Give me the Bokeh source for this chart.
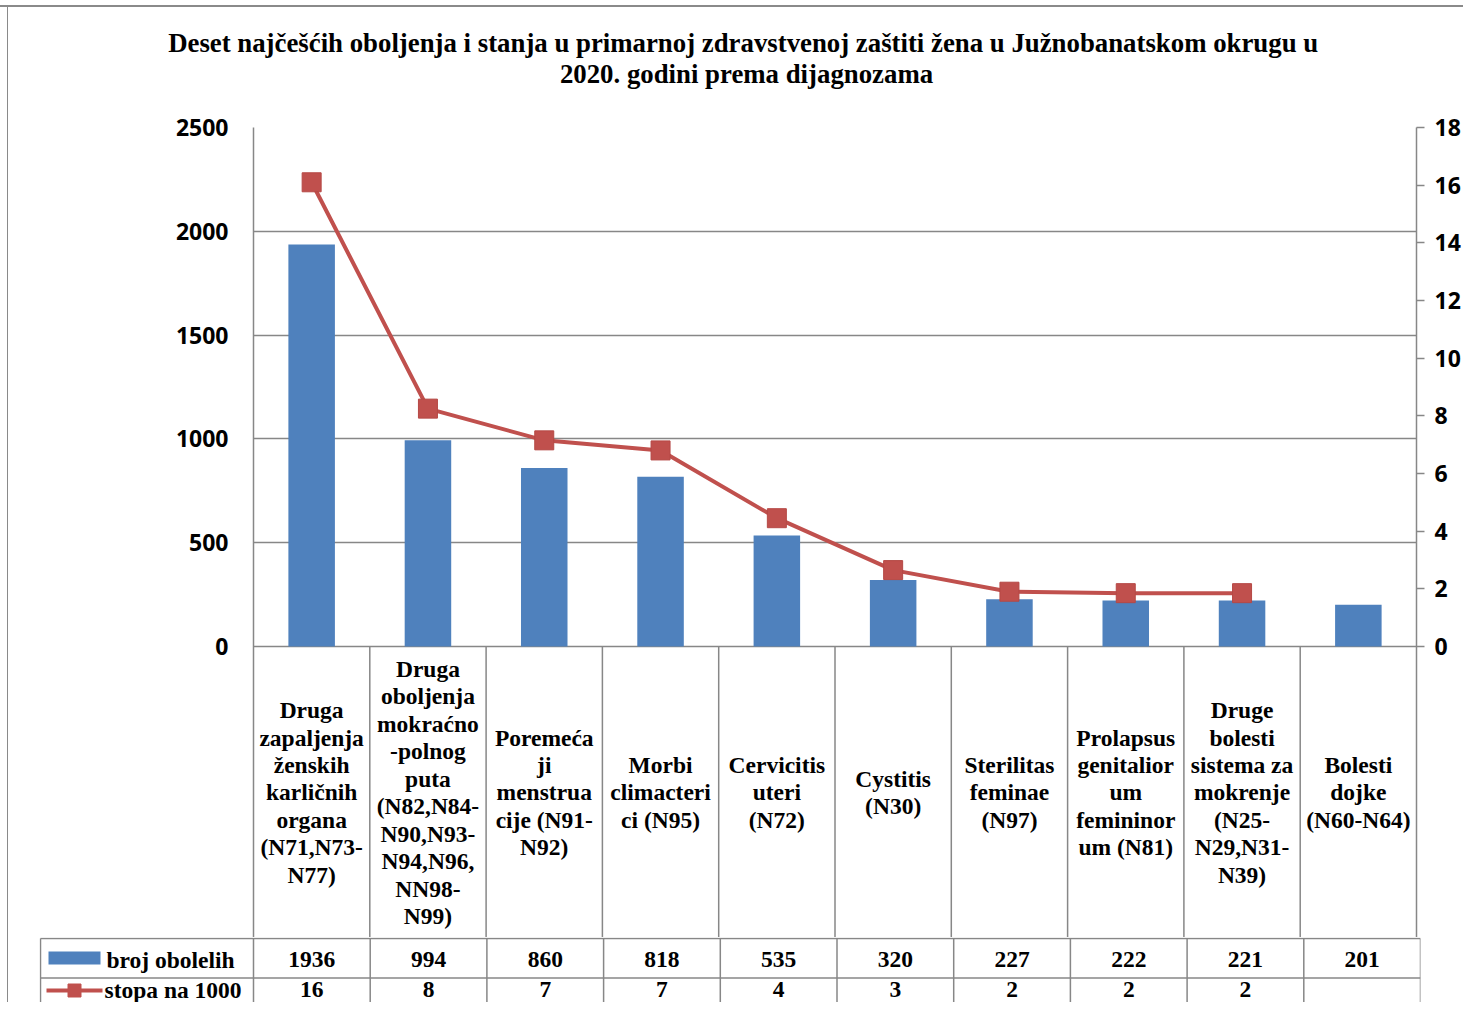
from bokeh.plotting import figure
from bokeh.models import Range1d, LinearAxis, FixedTicker
from bokeh.layouts import column
from bokeh.embed import file_html
from bokeh.resources import INLINE
from bokeh.core.properties import value

# ---------------- data ----------------
categories = [
    "Druga\nzapaljenja\nženskih\nkarličnih\norgana\n(N71,N73-\nN77)",
    "Druga\noboljenja\nmokraćno\n-polnog\nputa\n(N82,N84-\nN90,N93-\nN94,N96,\nNN98-\nN99)",
    "Poremeća\nji\nmenstrua\ncije (N91-\nN92)",
    "Morbi\nclimacteri\nci (N95)",
    "Cervicitis\nuteri\n(N72)",
    "Cystitis\n(N30)",
    "Sterilitas\nfeminae\n(N97)",
    "Prolapsus\ngenitalior\num\nfemininor\num (N81)",
    "Druge\nbolesti\nsistema za\nmokrenje\n(N25-\nN29,N31-\nN39)",
    "Bolesti\ndojke\n(N60-N64)",
]
broj_obolelih = [1936, 994, 860, 818, 535, 320, 227, 222, 221, 201]
stopa_na_1000 = [16.1, 8.25, 7.15, 6.8, 4.45, 2.65, 1.9, 1.85, 1.85, None]
series_names = ["broj obolelih", "stopa na 1000"]
left_ticks = [0, 500, 1000, 1500, 2000, 2500]
right_ticks = [0, 2, 4, 6, 8, 10, 12, 14, 16, 18]
title_lines = [
    "Deset najčešćih oboljenja i stanja u primarnoj zdravstvenoj zaštiti  žena u Južnobanatskom okrugu u",
    "2020. godini prema dijagnozama",
]

# ---------------- style / layout ----------------
BLUE = "#4F81BD"
RED = "#C0504D"
GRAY = "#878787"
SERIF = value("Liberation Serif")
SANS = "Open Sans"
FS = "23.5px"
LH = 1.057
W = 1463
L, R, T, B0 = 253, 1420, 127, 646        # plot area (canvas px)
TABLE_TOP = 938
TITLE_H = 100
CHART_H = 837
BOT_H = 65
N = len(categories)
pxx = (R - L) / N
pyl = (B0 - T) / left_ticks[-1]
pyr = (B0 - T) / right_ticks[-1]
frame_bottom = TITLE_H + CHART_H
yl0 = -(frame_bottom - B0) / pyl
yr0 = -(frame_bottom - B0) / pyr


def dx(px):
    return (px - L) / pxx


def dyl(py):
    return (B0 - py) / pyl


def common(**kw):
    return dict(output_backend="svg", toolbar_location=None, title=None, tools="",
                frame_align=False, **kw)


xs = [i + 0.5 for i in range(N)]

# ---------------- title ----------------
tf = figure(width=W, height=TITLE_H, x_range=Range1d(0, W), y_range=Range1d(TITLE_H, 0),
            x_axis_location=None, y_axis_location=None,
            min_border_left=0, min_border_right=0, min_border_top=0, min_border_bottom=0,
            **common())
tf.outline_line_color = None
tf.background_fill_color = None
tf.border_fill_color = None
tf.grid.visible = False
tf.text(x=[746, 746], y=[42, 73], text=title_lines, text_align="center", text_baseline="middle",
        text_font=SERIF, text_font_style="bold", text_font_size="26.8px", text_color="black")

# ---------------- chart ----------------
top = figure(width=W, height=CHART_H, x_range=Range1d(0, N), y_range=Range1d(yl0, left_ticks[-1]),
             x_axis_location=None, y_axis_location="left",
             min_border_left=L, min_border_right=W - R,
             min_border_top=T - TITLE_H, min_border_bottom=0, **common())
top.extra_y_ranges = {"right": Range1d(yr0, right_ticks[-1])}
top.outline_line_color = None
top.border_fill_color = None

ax = top.yaxis[0]
ax.ticker = FixedTicker(ticks=left_ticks)
ax.major_tick_out = 0
ax.major_tick_in = 0
ax.minor_tick_out = 0
ax.minor_tick_in = 0
ax.axis_line_color = GRAY
ax.axis_line_width = 1.5
ax.major_label_standoff = 25
ax.major_label_text_font = SANS
ax.major_label_text_font_style = "bold"
ax.major_label_text_font_size = "23px"
ax.major_label_text_color = "black"

rax = LinearAxis(y_range_name="right", ticker=FixedTicker(ticks=right_ticks))
rax.major_tick_out = 8
rax.major_tick_in = 0
rax.minor_tick_out = 0
rax.minor_tick_in = 0
rax.major_tick_line_color = GRAY
rax.major_tick_line_width = 1.5
rax.axis_line_color = GRAY
rax.axis_line_width = 1.5
rax.major_label_standoff = 10
rax.major_label_text_font = SANS
rax.major_label_text_font_style = "bold"
rax.major_label_text_font_size = "23px"
rax.major_label_text_color = "black"
top.add_layout(rax, "right")

top.xgrid.visible = False
top.ygrid.ticker = FixedTicker(ticks=left_ticks)
top.ygrid.grid_line_color = GRAY
top.ygrid.grid_line_width = 1.5

top.vbar(x=xs, top=broj_obolelih, width=0.4, fill_color=BLUE, line_color=None)

lx = [x for x, v in zip(xs, stopa_na_1000) if v is not None]
ly = [v for v in stopa_na_1000 if v is not None]
top.line(lx, ly, y_range_name="right", line_color=RED, line_width=4)
top.scatter(lx, ly, y_range_name="right", marker="square", size=19,
            fill_color=RED, line_color="#B54845", line_width=1)

bounds = list(range(1, N))
top.segment(x0=bounds, y0=[0] * len(bounds), x1=bounds, y1=[yl0] * len(bounds),
            line_color=GRAY, line_width=1.5)

cat_y = dyl((B0 + TABLE_TOP) / 2)
top.text(x=xs, y=[cat_y] * N, text=categories, text_align="center", text_baseline="middle",
         text_font=SERIF, text_font_style="bold", text_font_size=FS,
         text_line_height=LH, text_color="black")

# ---------------- data table ----------------
LEG_LEFT = 40
bot = figure(width=W, height=BOT_H, x_range=Range1d(dx(LEG_LEFT - 1), N), y_range=Range1d(-BOT_H, 0),
             x_axis_location=None, y_axis_location=None,
             min_border_left=LEG_LEFT - 1, min_border_right=W - R,
             min_border_top=0, min_border_bottom=0, **common())
bot.outline_line_color = None
bot.border_fill_color = None
bot.grid.visible = False


def by(py):
    return -(py - frame_bottom)


row_lines = [TABLE_TOP, 977.5, 1017]
bot.segment(x0=[dx(LEG_LEFT)] * 3, y0=[by(r) for r in row_lines], x1=[N] * 3,
            y1=[by(r) for r in row_lines], line_color=GRAY, line_width=1.5)
vlines = [dx(LEG_LEFT)] + list(range(0, N + 1))
bot.segment(x0=vlines, y0=[by(TABLE_TOP)] * len(vlines), x1=vlines, y1=[by(1017)] * len(vlines),
            line_color=GRAY, line_width=1.5)

row_y = [by(959), by(989)]
bot.text(x=xs, y=[row_y[0]] * N, text=[str(v) for v in broj_obolelih], text_align="center",
         text_baseline="middle", text_font=SERIF, text_font_style="bold",
         text_font_size=FS, text_color="black")
bot.text(x=xs, y=[row_y[1]] * N,
         text=["" if v is None else str(round(v)) for v in stopa_na_1000], text_align="center",
         text_baseline="middle", text_font=SERIF, text_font_style="bold",
         text_font_size=FS, text_color="black")

bot.quad(left=[dx(48)], right=[dx(100)], top=[by(951)], bottom=[by(964)], fill_color=BLUE, line_color=None)
bot.segment(x0=[dx(46)], y0=[by(990)], x1=[dx(102)], y1=[by(990)], line_color=RED, line_width=4)
bot.scatter([dx(74)], [by(990)], marker="square", size=13, fill_color=RED, line_color=RED)
bot.text(x=[dx(106), dx(104)], y=row_y, text=series_names, text_align="left", text_baseline="middle",
         text_font=SERIF, text_font_style="bold", text_font_size=FS, text_color="black")

frame_css = {
    "background-color": "white",
    "background-image": "linear-gradient(to right, transparent 7px, #8a8a8a 7px, #8a8a8a 8px, transparent 8px), "
                        "linear-gradient(to bottom, transparent 5px, #8a8a8a 5px, #8a8a8a 7px, transparent 7px)",
    "background-repeat": "no-repeat, no-repeat",
    "background-position": "0 6px, 0 0",
    "background-size": "100% 100%, 100% 100%",
}
layout = column(tf, top, bot, spacing=0, styles=frame_css)
open("out.html", "w").write(file_html(layout, INLINE))
